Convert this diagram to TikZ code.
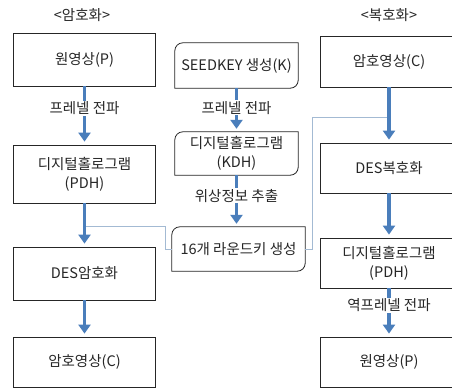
\documentclass[tikz,border=0pt]{standalone}
\usepackage{fontspec}
\setmainfont{Noto Sans CJK KR}
\usetikzlibrary{arrows.meta,calc}
\definecolor{arrowblue}{HTML}{4A7EBB}
\definecolor{connblue}{HTML}{A3BAD3}
\definecolor{txt}{HTML}{262626}
\begin{document}
\begin{tikzpicture}[x=1pt,y=-1pt,
  every node/.style={font=\fontsize{14.5}{19}\selectfont, text=txt},
  box/.style={draw=txt, line width=0.8pt, inner sep=0pt, align=center},
  rbox/.style={inner sep=0pt, align=center},
  flow/.style={draw=arrowblue, line width=3.6pt, -{Triangle[width=12pt,length=9pt]}, shorten >=3pt},
  conn/.style={draw=connblue, line width=1pt},
  lbl/.style={fill=white, inner sep=1pt},
  title/.style={inner sep=0pt}]
\useasboundingbox (0,0) rectangle (452,389);
\fill[white] (0,0) rectangle (452,389);
\clip (0,0) rectangle (452,389);

% titles
\node[title] (t1) at (82,15) {<암호화>};
\node[title] (t2) at (389,15) {<복호화>};

% left column
\node[box, minimum width=142pt, minimum height=53pt] (A1) at (84.5,59.5) {원영상(P)};
\node[box, minimum width=142pt, minimum height=58pt] (A2) at (84.5,174) {디지털홀로그램\\(PDH)};
\node[box, minimum width=142pt, minimum height=53pt] (A3) at (84.5,273.5) {DES암호화};
\node[box, minimum width=142pt, minimum height=50pt] (A4) at (84.5,362) {암호영상(C)};

% middle column (round diagonal corners)
\node[rbox, minimum width=123pt, minimum height=45pt] (M1) at (236.5,65.5) {SEEDKEY 생성(K)};
\node[rbox, minimum width=123pt, minimum height=43pt] (M2) at (236.5,153.5) {디지털홀로그램\\(KDH)};
\node[rbox, minimum width=133pt, minimum height=44pt] (M3) at (238.5,249) {16개 라운드키 생성};
\foreach \n in {M1,M2,M3}{
  \draw[draw=txt, line width=0.8pt]
    ([yshift=-8pt]\n.north west) arc[start angle=180, end angle=90, radius=8pt]
    -- (\n.north east)
    -- ([yshift=8pt]\n.south east) arc[start angle=0, end angle=-90, radius=8pt]
    -- (\n.south west) -- cycle;
}

% right column
\node[box, minimum width=138pt, minimum height=51pt] (R1) at (389,61.5) {암호영상(C)};
\node[box, minimum width=138pt, minimum height=50pt] (R2) at (389,168) {DES복호화};
\node[box, minimum width=138pt, minimum height=50pt] (R3) at (389,263) {디지털홀로그램\\(PDH)};
\node[box, minimum width=138pt, minimum height=50pt] (R4) at (389,362) {원영상(P)};

% thin connectors
\coordinate (j1) at (84.5,226);
\coordinate (j2) at (389,117);
\draw[conn] (j1) -- (165,226) |- (M3.west);
\draw[conn] (M3.east) -| (312,117) -- (j2);

% arrows
\draw[flow] (A1.south) -- (A2.north) node[lbl, pos=0.38] (l1) {프레넬 전파};
\draw[flow] (A2.south) -- (A3.north);
\draw[flow] (A3.south) -- (A4.north);

\draw[flow] (M1.south) -- (M2.north) node[lbl, pos=0.45] (l2) {프레넬 전파};
\draw[flow] (M2.south) -- (M2.south |- M3.north) node[lbl, pos=0.4] (l3) {위상정보 추출};

\draw[flow] (R1.south) -- (R2.north);
\draw[flow] (R2.south) -- (R3.north);
\draw[flow] (R3.south) -- (R4.north) node[lbl, pos=0.35] (l4) {역프레넬 전파};
\end{tikzpicture}
\end{document}
